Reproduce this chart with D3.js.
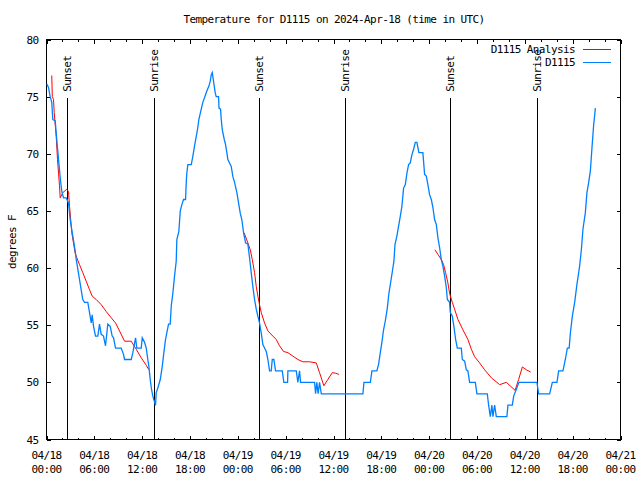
<!DOCTYPE html>
<html><head><meta charset="utf-8">
<script src="https://cdn.jsdelivr.net/npm/d3@7"></script>
<style>
body{margin:0;background:#fff}
svg text{font-family:"DejaVu Sans Mono",monospace;font-size:11px;letter-spacing:-0.6px;fill:#000}
</style></head><body>
<svg id="c" width="640" height="480"></svg>
<script>
const titleText = "Temperature for D1115 on 2024-Apr-18 (time in UTC)";
const yAxisLabel = "degrees F";
const seriesNames = ["D1115 Analysis", "D1115"];
const seriesColors = ["#ff0000", "#0080ff"];
const yTickValues = [45, 50, 55, 60, 65, 70, 75, 80];
const xMajorHours = [0, 6, 12, 18, 24, 30, 36, 42, 48, 54, 60, 66, 72];
const xMinorHours = d3.range(0, 73, 2);
const sunHours = [2.55, 13.46, 26.63, 37.43, 50.56, 61.52];
const sunLabels = ["Sunset", "Sunrise", "Sunset", "Sunrise", "Sunset", "Sunrise"];
const sunLineTop = 74.9;

// observed D1115 (hours since 2024-04-18 00:00 UTC, deg F)
const obsHours = [0.04,0.25,0.46,0.66,0.79,1.09,1.22,1.38,1.59,1.72,1.92,2.13,2.47,2.76,2.97,3.30,3.58,3.73,3.93,4.14,
4.35,4.55,4.77,5.18,5.40,5.61,5.73,5.90,6.15,6.44,6.65,6.86,7.15,7.40,7.69,7.99,8.24,8.41,8.66,9.37,
9.66,9.79,10.63,10.83,11.17,11.33,11.88,12.01,12.30,12.51,12.71,12.84,13.01,13.17,13.34,13.46,13.68,13.76,13.96,14.27,
14.52,14.72,14.93,15.14,15.31,15.52,15.65,15.85,16.06,16.27,16.35,16.60,16.78,16.98,17.19,17.44,17.53,17.60,17.73,18.16,
18.36,18.57,18.78,18.98,19.11,19.41,19.61,19.82,20.11,20.36,20.54,20.66,20.79,20.95,21.17,21.29,21.58,21.64,21.83,21.92,
22.05,22.30,22.46,22.62,22.75,22.96,23.17,23.38,23.59,23.88,24.09,24.30,24.50,24.72,24.97,25.26,25.47,25.68,25.88,26.10,
26.31,26.51,26.72,26.94,27.14,27.35,27.57,27.77,27.98,28.19,28.32,28.52,28.73,29.57,29.77,30.24,30.28,31.33,31.53,31.74,
31.87,33.63,33.75,33.91,34.07,34.25,34.47,39.69,39.82,40.62,40.82,41.44,41.66,41.87,42.07,42.28,42.53,42.75,42.95,43.16,
43.38,43.58,43.71,43.95,44.17,44.38,44.58,44.79,45.01,45.21,45.42,45.63,45.83,46.05,46.26,46.46,46.71,47.21,47.43,47.64,
47.84,48.06,48.27,48.47,48.68,48.90,49.10,49.31,49.52,49.72,49.94,50.15,50.28,50.56,50.65,50.90,51.10,51.32,51.53,52.03,
52.16,52.45,52.66,52.86,53.07,53.79,53.99,55.29,55.46,55.67,55.87,56.00,56.21,56.42,57.75,57.88,58.43,58.60,58.93,59.26,
61.52,61.73,63.11,63.45,64.03,64.24,64.78,65.08,65.33,65.56,65.71,65.96,66.25,66.54,66.88,67.09,67.29,67.59,67.79,68.01,
68.22,68.42,68.63,68.85];
const obsTemps = [76.1,75.8,75.0,74.5,73.0,72.9,71.8,70.5,68.9,67.9,66.7,66.15,66.15,65.7,64.25,62.8,61.6,60.75,59.9,59.0,
58.1,57.25,57.0,57.0,56.1,55.2,55.9,54.9,54.05,54.05,55.1,54.2,54.05,53.2,55.1,54.9,54.05,53.9,53.0,53.0,
52.45,52.0,52.0,52.6,53.9,53.0,53.0,53.9,53.5,53.0,52.0,51.4,50.25,49.4,48.8,48.5,48.0,49.1,49.5,50.25,
51.4,52.6,53.75,54.5,55.1,55.1,56.7,57.8,59.3,60.6,62.5,63.2,65.0,65.55,66.0,66.0,67.5,68.3,69.05,69.05,
69.8,70.7,71.5,72.3,73.0,73.9,74.5,74.9,75.5,75.9,76.35,76.9,77.1,76.35,75.3,75.0,75.0,74.0,73.9,73.0,
72.1,71.25,70.8,70.1,69.5,69.2,68.9,68.0,67.5,66.6,65.7,64.8,64.25,63.1,62.2,62.1,60.9,59.6,58.4,57.25,
56.4,55.8,55.2,54.3,53.3,53.0,52.7,52.0,51.0,51.0,52.0,52.0,51.0,51.0,50.0,50.0,51.0,51.0,50.0,51.0,
50.0,50.0,49.0,50.0,49.0,50.0,49.0,49.0,50.0,50.0,51.0,51.0,51.6,52.6,53.5,54.6,55.5,56.5,57.8,58.7,
59.7,60.6,62.05,62.8,63.7,64.55,65.4,67.0,67.3,68.3,69.05,69.2,69.9,70.4,71.0,71.0,70.1,70.1,68.2,68.05,
67.3,66.4,66.0,65.3,64.25,63.8,62.65,61.8,60.75,60.2,59.3,58.3,57.25,57.0,56.1,55.8,54.9,53.75,53.0,53.0,
52.0,51.85,51.1,51.0,50.0,50.0,49.0,49.0,48.0,47.0,48.0,47.0,48.0,47.0,47.0,48.0,48.0,48.8,49.4,50.0,
50.0,49.0,49.0,50.0,50.0,51.0,51.0,52.0,53.0,53.0,54.3,55.8,57.0,58.6,60.2,61.6,63.4,64.85,66.6,67.5,
68.5,70.5,72.5,74.0];

// analysis D1115 (null = gap)
const anaHours = [0.66,0.73,0.88,0.97,1.22,1.38,1.51,1.63,1.72,2.05,2.55,2.76,2.89,2.97,3.17,3.60,3.80,4.14,4.55,4.98,
5.40,5.73,6.24,6.86,7.49,8.12,8.66,9.16,9.79,10.63,11.25,11.88,12.51,12.84,18.0,
24.78,25.26,25.56,25.81,26.10,26.31,26.51,26.72,26.94,27.35,27.77,28.39,28.82,29.23,29.74,30.28,30.90,31.53,32.16,33.00,
33.84,34.25,34.79,35.29,35.85,36.26,36.68,42.0,
48.72,49.10,49.52,49.81,50.06,50.35,50.56,50.90,51.19,51.61,52.23,52.86,53.29,53.70,54.33,54.96,55.80,56.84,57.68,58.78,
59.22,59.69,60.19,60.73];
const anaTemps = [76.85,75.0,74.75,73.6,71.5,69.5,68.3,67.2,66.15,66.6,66.9,66.7,65.4,64.8,63.1,61.3,60.9,60.3,59.6,58.85,
58.1,57.55,57.25,56.8,56.2,55.65,55.2,54.5,53.6,53.6,52.9,52.15,51.5,51.1,null,
63.1,62.2,61.6,60.75,59.6,58.4,57.55,56.8,56.1,55.2,54.5,54.05,53.75,53.2,52.7,52.6,52.3,52.0,51.8,51.8,
51.7,50.85,49.7,50.25,50.85,50.8,50.7,null,
61.6,61.2,60.75,60.3,59.6,58.7,57.8,57.0,56.4,55.5,54.6,53.75,52.9,52.25,51.7,51.1,50.4,49.8,50.0,49.3,
50.25,51.35,51.1,50.9];

const t0 = Date.UTC(2024, 3, 18, 0, 0);
const toDate = h => new Date(t0 + h * 3600000);

const svg = d3.select("#c");
const L = 46.5, R = 620.5, T = 39.5, B = 439.5;
const x = d3.scaleUtc().domain([toDate(0), toDate(72)]).range([L, R]);
const y = d3.scaleLinear().domain([45, 80]).range([B, T]);

// title
svg.append("text").attr("x", 334).attr("y", 19).attr("dy", "0.35em")
  .attr("text-anchor", "middle").text(titleText);

// y label
svg.append("text").attr("transform", "translate(12,242) rotate(-90)")
  .attr("dy", "0.35em").attr("text-anchor", "middle").text(yAxisLabel);

const axisStyle = g => { g.select(".domain").remove(); g.selectAll("line").attr("stroke", "#000").attr("shape-rendering", "crispEdges"); };

// x axes (inward ticks)
const majorDates = xMajorHours.map(toDate), minorDates = xMinorHours.filter(h => h % 6).map(toDate);
svg.append("g").attr("transform", `translate(0,${B})`)
  .call(d3.axisBottom(x).tickValues(majorDates).tickSize(-4).tickFormat("")).call(axisStyle);
svg.append("g").attr("transform", `translate(0,${B})`)
  .call(d3.axisBottom(x).tickValues(minorDates).tickSize(-2).tickFormat("")).call(axisStyle);
svg.append("g").attr("transform", `translate(0,${T})`)
  .call(d3.axisTop(x).tickValues(majorDates).tickSize(-4).tickFormat("")).call(axisStyle);
svg.append("g").attr("transform", `translate(0,${T})`)
  .call(d3.axisTop(x).tickValues(minorDates).tickSize(-2).tickFormat("")).call(axisStyle);

const fmtD = d3.utcFormat("%m/%d"), fmtT = d3.utcFormat("%H:%M");
const xl = svg.append("g").selectAll("text").data(majorDates).join("text")
  .attr("text-anchor", "middle");
xl.append("tspan").attr("x", d => x(d)).attr("y", 455).attr("dy", "0.35em").text(fmtD);
xl.append("tspan").attr("x", d => x(d)).attr("y", 469).attr("dy", "0.35em").text(fmtT);

// y axes
svg.append("g").attr("transform", `translate(${L},0)`)
  .call(d3.axisLeft(y).tickValues(yTickValues).tickSize(-4).tickPadding(8).tickFormat(d3.format("d")))
  .call(axisStyle).call(g => g.selectAll("text").attr("font-size", null).attr("font-family", null).attr("fill", "#000"));
svg.append("g").attr("transform", `translate(${R},0)`)
  .call(d3.axisRight(y).tickValues(yTickValues).tickSize(-4).tickFormat(""))
  .call(axisStyle);

// border
svg.append("rect").attr("x", L).attr("y", T).attr("width", R - L).attr("height", B - T)
  .attr("fill", "none").attr("stroke", "#000").attr("shape-rendering", "crispEdges");

// sun lines
const sunDates = sunHours.map(toDate);
svg.append("g").selectAll("line").data(sunDates).join("line")
  .attr("x1", d => Math.round(x(d)) + 0.5).attr("x2", d => Math.round(x(d)) + 0.5)
  .attr("y1", y(sunLineTop)).attr("y2", B).attr("stroke", "#000").attr("shape-rendering", "crispEdges");
svg.append("g").selectAll("text").data(sunDates).join("text")
  .attr("transform", (d, i) => `translate(${Math.round(x(d)) + 0.5},${y(sunLineTop) - 6}) rotate(-90)`)
  .attr("dy", "0.35em").attr("text-anchor", "start").text((d, i) => sunLabels[i]);

// series
const anaData = anaHours.map((h, i) => ({ d: toDate(h), v: anaTemps[i] }));
const obsData = obsHours.map((h, i) => ({ d: toDate(h), v: obsTemps[i] }));
const lineAna = d3.line().defined(p => p.v != null).x(p => x(p.d)).y(p => y(p.v));
const lineObs = d3.line().x(p => x(p.d)).y(p => y(p.v));
svg.append("path").datum(anaData).attr("d", lineAna).attr("fill", "none")
  .attr("stroke", seriesColors[0]).attr("stroke-width", 1);
svg.append("path").datum(obsData).attr("d", lineObs).attr("fill", "none")
  .attr("stroke", seriesColors[1]).attr("stroke-width", 1.3);

// legend
seriesNames.forEach((n, i) => {
  const ly = 49.5 + i * 13;
  svg.append("text").attr("x", 575).attr("y", ly).attr("dy", "0.35em").attr("text-anchor", "end").text(n);
  svg.append("line").attr("x1", 583).attr("x2", 611).attr("y1", ly).attr("y2", ly)
    .attr("stroke", seriesColors[i]).attr("shape-rendering", "crispEdges");
});
</script>
</body></html>
